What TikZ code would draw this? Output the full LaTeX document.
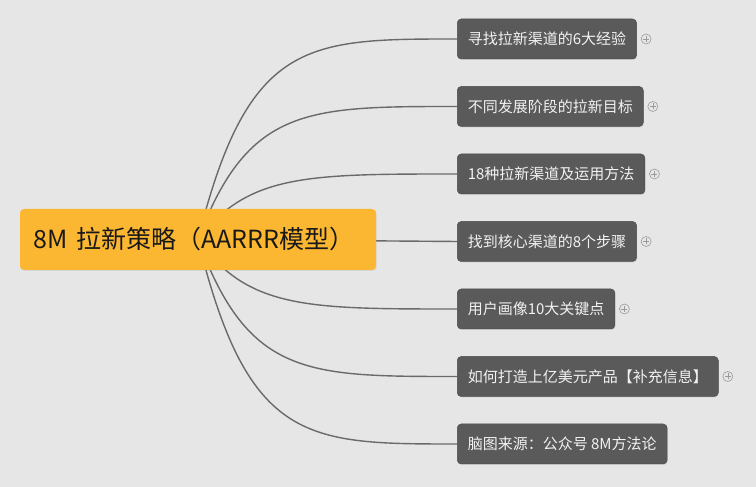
\documentclass[tikz,border=0pt]{standalone}
\usepackage{fontspec}
\setmainfont{Noto Sans CJK SC}
\usetikzlibrary{positioning,shadows}

\definecolor{bgcol}{HTML}{E6E6E6}
\definecolor{rootcol}{HTML}{FCB732}
\definecolor{branchcol}{HTML}{5A5A5A}
\definecolor{linkcol}{HTML}{6A6A6A}
\definecolor{foldcol}{HTML}{9A9A9A}

\pgfdeclarelayer{back}
\pgfdeclarelayer{links}
\pgfsetlayers{back,links,main}

\begin{document}
\begin{tikzpicture}[x=1pt, y=1pt]
        \tikzstyle{root}=[rectangle, rounded corners=4pt, fill=rootcol, text=black!90, text width=328pt, align=left, inner xsep=14pt, minimum height=61pt, font=\fontsize{25}{29}\selectfont, drop shadow={opacity=0.15, shadow xshift=0.5pt, shadow yshift=-1pt}];
        \tikzstyle{branch}=[rectangle, rounded corners=4pt, draw=black!70, line width=0.5pt, fill=branchcol, text=white!95!black, minimum height=40pt, inner xsep=10.5pt, anchor=west, font=\fontsize{15}{19}\selectfont, drop shadow={opacity=0.2, shadow xshift=0.5pt, shadow yshift=-1pt}];
        \tikzstyle{fold}=[circle, draw=foldcol, line width=0.6pt, minimum size=10pt, inner sep=0pt, path picture={\draw[foldcol, line width=0.6pt] ([xshift=-3pt]path picture bounding box.center) -- ([xshift=3pt]path picture bounding box.center) ([yshift=-3pt]path picture bounding box.center) -- ([yshift=3pt]path picture bounding box.center);}];
        \tikzstyle{link}=[draw=linkcol, line width=1.4pt];

        \begin{pgfonlayer}{back}
            \fill[bgcol] (0,0) rectangle (756,487);
        \end{pgfonlayer}
        \useasboundingbox (0,0) rectangle (756,487);

        \node[root] (root) at (198,247.5) {8M 拉新策略（AARRR模型）};

        \node[branch] (exp) at (457,448) {寻找拉新渠道的6大经验};
        \node[branch, below=27pt of exp.south west, anchor=north west] (goal) {不同发展阶段的拉新目标};
        \node[branch, below=27pt of goal.south west, anchor=north west] (chan) {18种拉新渠道及运用方法};
        \node[branch, below=27pt of chan.south west, anchor=north west] (core) {找到核心渠道的8个步骤};
        \node[branch, below=27pt of core.south west, anchor=north west] (user) {用户画像10大关键点};
        \node[branch, below=27pt of user.south west, anchor=north west] (prod) {如何打造上亿美元产品【补充信息】};
        \node[branch, below=27pt of prod.south west, anchor=north west] (src) {脑图来源：公众号 8M方法论};

        \node[fold, right=4pt of exp] (fexp) {};
        \node[fold, right=4pt of goal] (fgoal) {};
        \node[fold, right=4pt of chan] (fchan) {};
        \node[fold, right=4pt of core] (fcore) {};
        \node[fold, right=4pt of user] (fuser) {};
        \node[fold, right=4pt of prod] (fprod) {};

        % curves start at the centre of the root, under the box
        \coordinate (hub) at ([xshift=50pt]root.center);
        \begin{pgfonlayer}{links}
            \draw[link] (root.center) .. controls (hub |- exp.west) and ([xshift=-150pt]exp.west) .. (exp.west);
            \draw[link] (root.center) .. controls (hub |- goal.west) and ([xshift=-150pt]goal.west) .. (goal.west);
            \draw[link] (root.center) .. controls (hub |- chan.west) and ([xshift=-150pt]chan.west) .. (chan.west);
            \draw[link] (root.center) -- (core.west);
            \draw[link] (root.center) .. controls (hub |- user.west) and ([xshift=-150pt]user.west) .. (user.west);
            \draw[link] (root.center) .. controls (hub |- prod.west) and ([xshift=-150pt]prod.west) .. (prod.west);
            \draw[link] (root.center) .. controls (hub |- src.west) and ([xshift=-150pt]src.west) .. (src.west);
        \end{pgfonlayer}
\end{tikzpicture}
\end{document}
